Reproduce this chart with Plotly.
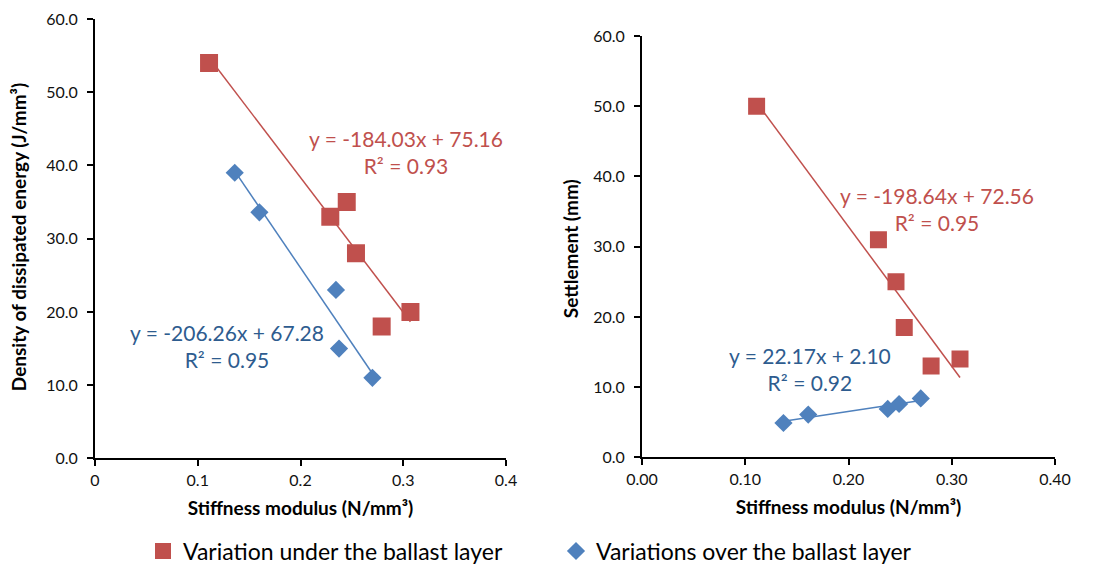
import plotly.graph_objects as go

# ---- data ----
# Left chart: density of dissipated energy vs stiffness modulus
left_under_x = [0.111, 0.229, 0.245, 0.254, 0.279, 0.307]
left_under_y = [54.0, 33.0, 35.0, 28.0, 18.0, 20.0]
left_over_x = [0.136, 0.160, 0.2345, 0.2375, 0.270]
left_over_y = [39.0, 33.6, 23.0, 15.0, 11.0]

# Right chart: settlement vs stiffness modulus
right_under_x = [0.111, 0.229, 0.246, 0.254, 0.280, 0.308]
right_under_y = [50.0, 31.0, 25.0, 18.5, 13.0, 14.0]
right_over_x = [0.137, 0.161, 0.238, 0.249, 0.270]
right_over_y = [4.9, 6.1, 6.9, 7.6, 8.4]

# Trendline coefficients (slope, intercept, R2)
left_under_fit = (-184.03, 75.16, 0.93)
left_over_fit = (-206.26, 67.28, 0.95)
right_under_fit = (-198.64, 72.56, 0.95)
right_over_fit = (22.17, 2.10, 0.92)

series_names = ["Variation under the ballast layer", "Variations over the ballast layer"]
left_xticks = [0, 0.1, 0.2, 0.3, 0.4]
right_xticks = [0.0, 0.1, 0.2, 0.3, 0.4]
yticks = [0, 10, 20, 30, 40, 50, 60]

RED = "#c0504d"
BLUE = "#4f81bd"
RED_TXT = "#c0504d"
BLUE_TXT = "#2e5c8f"
FONT = "Lato"

OFF = 8  # page body margin
W, H = 1111 - OFF, 573 - OFF

def px(v):
    return (v - OFF) / W

def py(v):
    return 1 - (v - OFF) / H

def fit_line(xs, fit):
    x0, x1 = min(xs), max(xs)
    m, b, _ = fit
    return [x0, x1], [m * x0 + b, m * x1 + b]

def eq_text(fit):
    m, b, r2 = fit
    sign = "+" if b >= 0 else "-"
    return f"y = {m:.2f}x {sign} {abs(b):.2f}<br>R² = {r2:.2f}"

fig = go.Figure()

# trendlines (drawn first)
for xs, fit, col, xa, ya in [
    (left_under_x, left_under_fit, RED, "x", "y"),
    (left_over_x, left_over_fit, BLUE, "x", "y"),
    (right_under_x, right_under_fit, RED, "x2", "y2"),
    (right_over_x, right_over_fit, BLUE, "x2", "y2"),
]:
    lx, ly = fit_line(xs, fit)
    fig.add_trace(go.Scatter(x=lx, y=ly, mode="lines", line=dict(color=col, width=1.5),
                             xaxis=xa, yaxis=ya, showlegend=False, hoverinfo="skip"))

# markers
fig.add_trace(go.Scatter(x=left_under_x, y=left_under_y, mode="markers", name=series_names[0],
                         marker=dict(symbol="square", size=18, color=RED), xaxis="x", yaxis="y",
                         legendrank=1))
fig.add_trace(go.Scatter(x=left_over_x, y=left_over_y, mode="markers", name=series_names[1],
                         marker=dict(symbol="diamond", size=14, color=BLUE), xaxis="x", yaxis="y",
                         legendrank=2))
fig.add_trace(go.Scatter(x=right_under_x, y=right_under_y, mode="markers", name=series_names[0],
                         marker=dict(symbol="square", size=17, color=RED), xaxis="x2", yaxis="y2",
                         showlegend=False))
fig.add_trace(go.Scatter(x=right_over_x, y=right_over_y, mode="markers", name=series_names[1],
                         marker=dict(symbol="diamond", size=14, color=BLUE), xaxis="x2", yaxis="y2",
                         showlegend=False))

axis_common = dict(showline=True, linecolor="black", linewidth=2, ticks="outside", ticklen=6,
                   tickwidth=1.5, tickcolor="black", showgrid=False, zeroline=False,
                   ticklabeloverflow="allow",
                   tickfont=dict(family=FONT, size=16, color="#111111"), automargin=False)

xtitle_font = dict(family=FONT, size=19, color="black")

fig.update_layout(
    width=W, height=H,
    margin=dict(l=0, r=0, t=0, b=0),
    paper_bgcolor="white", plot_bgcolor="white",
    font=dict(family=FONT, color="black"),
    xaxis=dict(domain=[px(95), px(506)], range=[0, 0.4], tickvals=left_xticks,
               ticktext=[f"{v:g}" for v in left_xticks], anchor="y",
               title=dict(text="<b>Stiffness modulus (N/mm³)</b>", font=xtitle_font, standoff=14),
               **axis_common),
    yaxis=dict(domain=[py(460), py(19)], range=[0, 60], tickvals=yticks,
               tickformat=".1f", anchor="x", ticklabelstandoff=6, **axis_common),
    xaxis2=dict(domain=[px(642), px(1055)], range=[0, 0.4], tickvals=right_xticks,
                tickformat=".2f", anchor="y2",
                title=dict(text="<b>Stiffness modulus (N/mm³)</b>", font=xtitle_font, standoff=14),
                **axis_common),
    yaxis2=dict(domain=[py(459), py(36)], range=[0, 60], tickvals=yticks,
                tickformat=".1f", anchor="x2", ticklabelstandoff=6, **axis_common),
    legend=dict(orientation="h", x=px(143), y=py(553), xanchor="left", yanchor="middle",
                font=dict(family=FONT, size=23, color="black"), entrywidth=368,
                entrywidthmode="pixels", itemwidth=30, bgcolor="rgba(0,0,0,0)"),
    showlegend=True,
)

annotations = [
    dict(x=0.3027, y=41.9, xref="x", yref="y", text=eq_text(left_under_fit), font=dict(color=RED_TXT)),
    dict(x=0.128, y=15.3, xref="x", yref="y", text=eq_text(left_over_fit), font=dict(color=BLUE_TXT)),
    dict(x=0.2859, y=35.3, xref="x2", yref="y2", text=eq_text(right_under_fit), font=dict(color=RED_TXT)),
    dict(x=0.163, y=12.6, xref="x2", yref="y2", text=eq_text(right_over_fit), font=dict(color=BLUE_TXT)),
]
for a in annotations:
    a["font"].update(family=FONT, size=21)
    a.update(showarrow=False, align="center", xanchor="center", yanchor="middle")
    fig.add_annotation(**a)

# y-axis titles
fig.add_annotation(x=px(18), y=py(238), xref="paper", yref="paper", textangle=-90,
                   text="<b>Density of dissipated energy (J/mm³)</b>", showarrow=False,
                   font=dict(family=FONT, size=19, color="black"), xanchor="center", yanchor="middle")
fig.add_annotation(x=px(570), y=py(250), xref="paper", yref="paper", textangle=-90,
                   text="<b>Settlement (mm)</b>", showarrow=False,
                   font=dict(family=FONT, size=19, color="black"), xanchor="center", yanchor="middle")

fig.write_html("out.html")
